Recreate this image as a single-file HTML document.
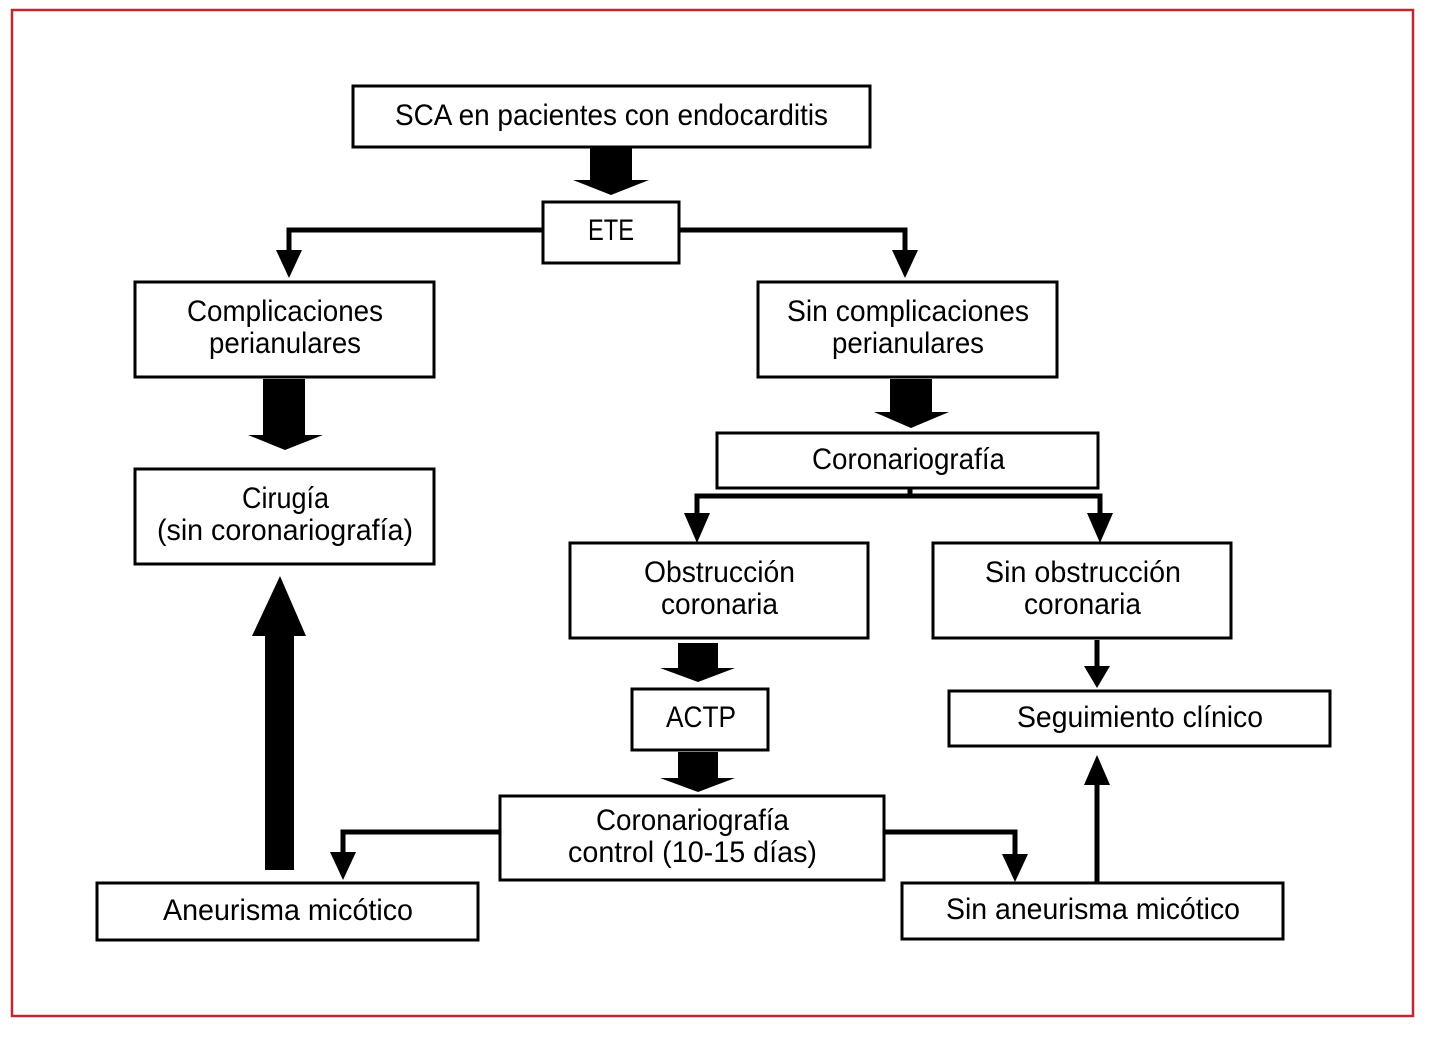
<!DOCTYPE html>
<html><head><meta charset="utf-8"><style>
html,body{margin:0;padding:0;background:#fff;}
svg text{font-family:"Liberation Sans Narrow","Liberation Sans",sans-serif;font-size:30px;fill:#000;}
</style></head><body>
<svg width="1431" height="1032" viewBox="0 0 1431 1032" xmlns="http://www.w3.org/2000/svg">
<rect x="12" y="10" width="1401" height="1006" fill="#fff" stroke="#c0282d" stroke-width="2.5"/>
<g fill="#fff" stroke="#000" stroke-width="3">
<rect x="353" y="86" width="517" height="61"/>
<rect x="543" y="202" width="136" height="61"/>
<rect x="135" y="282" width="299" height="95"/>
<rect x="758" y="282" width="299" height="95"/>
<rect x="135" y="469" width="299" height="95"/>
<rect x="717" y="433" width="381" height="55"/>
<rect x="570" y="543" width="298" height="95"/>
<rect x="933" y="543" width="298" height="95"/>
<rect x="632" y="689" width="136" height="61"/>
<rect x="949" y="691" width="381" height="55"/>
<rect x="500" y="796" width="384" height="84"/>
<rect x="97" y="883" width="381" height="57"/>
<rect x="902" y="883" width="381" height="56"/>
</g>
<g fill="#000">
<!-- block arrows -->
<polygon points="590,148 632,148 632,180 649,180 611,195 573,180 590,180"/>
<polygon points="263,379 305,379 305,435 323,435 285,450 248,435 263,435"/>
<polygon points="890,379 932,379 932,412 949,412 911,428 874,412 890,412"/>
<polygon points="678,643 718,643 718,668 735,668 698,682 660,668 678,668"/>
<polygon points="678,752 718,752 718,778 735,778 698,792 660,778 678,778"/>
<polygon points="265,870 294,870 294,636 306,636 280,576 252,636 265,636"/>
<!-- line arrow heads -->
<polygon points="276,250 302,250 289,278"/>
<polygon points="892,250 918,250 905,278"/>
<polygon points="684,513 710,513 697,543"/>
<polygon points="1087,513 1113,513 1100,543"/>
<polygon points="1084,666 1110,666 1097,688"/>
<polygon points="330,852 356,852 343,880"/>
<polygon points="1002,854 1028,854 1015,882"/>
<polygon points="1084,785 1110,785 1097,755"/>
</g>
<g fill="none" stroke="#000" stroke-width="5">
<polyline points="543,230 289,230 289,252"/>
<polyline points="679,230 905,230 905,252"/>
<polyline points="910,488 910,496"/>
<polyline points="697,515 697,496 1100,496 1100,515"/>
<polyline points="1097,640 1097,668"/>
<polyline points="500,832 343,832 343,854"/>
<polyline points="884,832 1015,832 1015,856"/>
<polyline points="1097,883 1097,783"/>
</g>
<g>
<text x="395" y="125" textLength="433" lengthAdjust="spacingAndGlyphs">SCA en pacientes con endocarditis</text>
<text x="588" y="240" textLength="46" lengthAdjust="spacingAndGlyphs">ETE</text>
<text x="187" y="321" textLength="196" lengthAdjust="spacingAndGlyphs">Complicaciones</text>
<text x="209" y="353" textLength="152" lengthAdjust="spacingAndGlyphs">perianulares</text>
<text x="787" y="321" textLength="242" lengthAdjust="spacingAndGlyphs">Sin complicaciones</text>
<text x="832" y="353" textLength="152" lengthAdjust="spacingAndGlyphs">perianulares</text>
<text x="242" y="508" textLength="87" lengthAdjust="spacingAndGlyphs">Cirugía</text>
<text x="157" y="540" textLength="256" lengthAdjust="spacingAndGlyphs">(sin coronariografía)</text>
<text x="812" y="469" textLength="193" lengthAdjust="spacingAndGlyphs">Coronariografía</text>
<text x="644" y="582" textLength="151" lengthAdjust="spacingAndGlyphs">Obstrucción</text>
<text x="661" y="614" textLength="117" lengthAdjust="spacingAndGlyphs">coronaria</text>
<text x="985" y="582" textLength="196" lengthAdjust="spacingAndGlyphs">Sin obstrucción</text>
<text x="1024" y="614" textLength="117" lengthAdjust="spacingAndGlyphs">coronaria</text>
<text x="666" y="727" textLength="70" lengthAdjust="spacingAndGlyphs">ACTP</text>
<text x="1017" y="727" textLength="246" lengthAdjust="spacingAndGlyphs">Seguimiento clínico</text>
<text x="596" y="830" textLength="193" lengthAdjust="spacingAndGlyphs">Coronariografía</text>
<text x="568" y="862" textLength="249" lengthAdjust="spacingAndGlyphs">control (10-15 días)</text>
<text x="163" y="920" textLength="250" lengthAdjust="spacingAndGlyphs">Aneurisma micótico</text>
<text x="946" y="919" textLength="294" lengthAdjust="spacingAndGlyphs">Sin aneurisma micótico</text>
</g>
</svg>
</body></html>
